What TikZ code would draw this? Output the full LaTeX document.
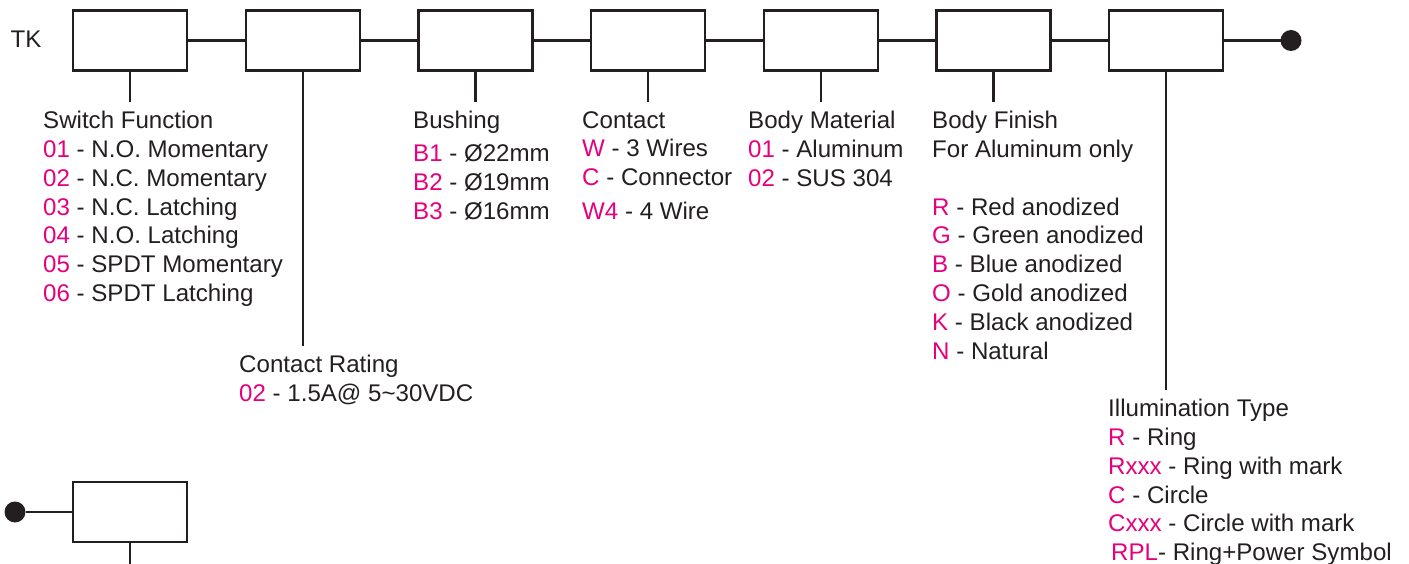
\documentclass[tikz,border=0pt]{standalone}
\usepackage{fontspec}
\setmainfont{Liberation Sans}
\usetikzlibrary{positioning}
\definecolor{Ink}{HTML}{231F20}
\definecolor{Code}{HTML}{E6007E}
\newcommand{\code}[1]{\textcolor{Code}{#1}}
\tikzset{
  every node/.append style={text=Ink},
  slot/.style={draw=Ink, line width=2.2pt, minimum width=114pt, minimum height=60pt,
               inner sep=0pt, outer sep=0pt},
  wire/.style={draw=Ink, line width=2.2pt},
  dot/.style={circle, fill=Ink, minimum size=21pt, inner sep=0pt, outer sep=0pt},
  legend/.style={anchor=north west, align=left, inner xsep=0pt, inner ysep=9pt,
                 font=\fontsize{24.1}{28.8}\selectfont},
}

\begin{document}
\begin{tikzpicture}[x=1pt, y=-1pt, node distance=58.7pt]
  \useasboundingbox (0,0) rectangle (1409,564);
  \node[anchor=base west, font=\fontsize{24.1}{28.8}\selectfont] (tk) at (7,48) {TK};
  \node[slot] (s1) at (130,40.5) {};
  \node[slot, right=of s1] (s2) {};
  \node[slot, right=of s2] (s3) {};
  \node[slot, right=of s3] (s4) {};
  \node[slot, right=of s4] (s5) {};
  \node[slot, right=of s5] (s6) {};
  \node[slot, right=of s6] (s7) {};
  \node[dot] (stop) at (1291,40.5) {};
  \draw[wire] (s1)--(s2);
  \draw[wire] (s2)--(s3);
  \draw[wire] (s3)--(s4);
  \draw[wire] (s4)--(s5);
  \draw[wire] (s5)--(s6);
  \draw[wire] (s6)--(s7);
  \draw[wire] (s7)--(stop);

  % option lists under the slots
  \node[legend] (func) at (43,102) {Switch Function\\
    \code{01} - N.O. Momentary\\ \code{02} - N.C. Momentary\\
    \code{03} - N.C. Latching\\ \code{04} - N.O. Latching\\
    \code{05} - SPDT Momentary\\ \code{06} - SPDT Latching};
  \node[legend] (rating) at (239,346) {Contact Rating\\
    \code{02} - 1.5A@ 5\textasciitilde30VDC};
  \node[legend] (bush) at (413,102) {Bushing\\[4pt]
    \code{B1} - Ø22mm\\ \code{B2} - Ø19mm\\ \code{B3} - Ø16mm};
  \node[legend] (contact) at (582,102) {Contact\\
    \code{W} - 3 Wires\\ \code{C} - Connector\\[5pt] \code{W4} - 4 Wire};
  \node[legend] (body) at (748,102) {Body Material\\
    \code{01} - Aluminum\\ \code{02} - SUS 304};
  \node[legend] (finish) at (932,102) {Body Finish\\ For Aluminum only\\[28.8pt]
    \code{R} - Red anodized\\ \code{G} - Green anodized\\
    \code{B} - Blue anodized\\ \code{O} - Gold anodized\\
    \code{K} - Black anodized\\ \code{N} - Natural};
  \node[legend] (light) at (1108,390) {Illumination Type\\
    \code{R} - Ring\\ \code{Rxxx} - Ring with mark\\ \code{C} - Circle\\
    \code{Cxxx} - Circle with mark\\ \hspace*{3pt}\code{RPL}- Ring+Power Symbol};
  \draw[wire] (s1.south)--(s1.south |- func.north);
  \draw[wire] (s2.south)--(s2.south |- rating.north);
  \draw[wire] (s3.south)--(s3.south |- bush.north);
  \draw[wire] (s4.south)--(s4.south |- contact.north);
  \draw[wire] (s5.south)--(s5.south |- body.north);
  \draw[wire] (s6.south)--(s6.south |- finish.north);
  \draw[wire] (s7.south)--(s7.south |- light.north);

  % second row
  \node[dot] (start) at (15,512) {};
  \node[slot] (s8) at (130,512) {};
  \coordinate (tail) at (130,566);
  \draw[wire] (start)--(s8);
  \draw[wire] (s8.south)--(tail);
\end{tikzpicture}
\end{document}
